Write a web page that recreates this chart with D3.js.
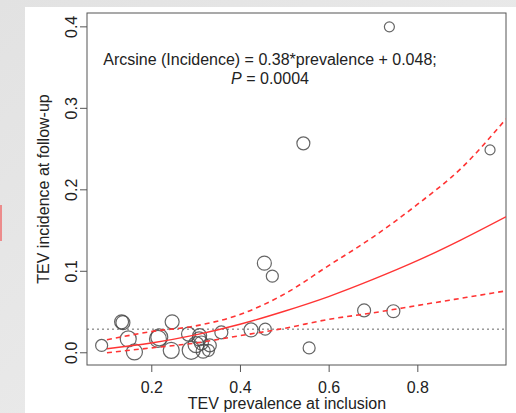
<!DOCTYPE html>
<html>
<head>
<meta charset="utf-8">
<script src="https://cdn.jsdelivr.net/npm/d3@7"></script>
<style>
  body { margin: 0; background: #e8e8e8; }
  svg { display: block; font-family: "Liberation Sans", Arial, sans-serif; }
</style>
</head>
<body>
<div id="chart"></div>
<script>
// Studies: prevalence at inclusion vs incidence at follow-up, bubble = study weight
const prevalence = [0.737, 0.543, 0.964, 0.455, 0.473, 0.680, 0.746, 0.556, 0.425, 0.457,
                    0.358, 0.088, 0.136, 0.133, 0.148, 0.162, 0.247, 0.215, 0.218, 0.245,
                    0.284, 0.290, 0.309, 0.313, 0.317, 0.332, 0.329, 0.301, 0.308];
const incidence = [0.400, 0.257, 0.249, 0.110, 0.094, 0.052, 0.051, 0.006, 0.028, 0.029,
                   0.025, 0.009, 0.037, 0.038, 0.017, 0.001, 0.038, 0.017, 0.019, 0.003,
                   0.023, 0.003, 0.021, 0.012, 0.002, 0.009, 0.003, 0.010, 0.017];
const studyWeight = [25, 42, 25, 49, 36, 42, 42, 36, 49, 36,
                     42, 36, 49, 49, 64, 64, 49, 72, 72, 64,
                     49, 81, 49, 49, 49, 42, 36, 64, 49];

// fitted curve and 95% band
const curvePrev = [0.1, 0.2, 0.3, 0.4, 0.5, 0.6, 0.7, 0.8, 0.9, 1.0];
const fitInc   = [0.005, 0.012, 0.022, 0.035, 0.051, 0.069, 0.090, 0.113, 0.139, 0.167];
const upperInc = [0.016, 0.026, 0.033, 0.047, 0.072, 0.107, 0.142, 0.182, 0.227, 0.287];
const lowerInc = [0.000, 0.006, 0.012, 0.021, 0.030, 0.041, 0.049, 0.058, 0.067, 0.076];

const meanIncidence = 0.029;
const xTicks = [0.2, 0.4, 0.6, 0.8];
const yTicks = [0.0, 0.1, 0.2, 0.3, 0.4];

const W = 516, H = 413;
const box = { left: 87, right: 506, top: 13, bottom: 365 };
const ink = '#222', axisCol = '#555', red = '#ff3434';

const svg = d3.select('#chart').append('svg')
    .attr('width', W)
    .attr('height', H);

// slide background + white panel
const grad = svg.append('defs').append('linearGradient')
    .attr('id', 'bg').attr('x1', 0).attr('y1', 0).attr('x2', 1).attr('y2', 1);
grad.append('stop').attr('offset', 0).attr('stop-color', '#e2e2e2');
grad.append('stop').attr('offset', 1).attr('stop-color', '#efefef');
svg.append('rect').attr('width', W).attr('height', H).attr('fill', 'url(#bg)');
svg.append('rect').attr('x', 0).attr('y', 205).attr('width', 2).attr('height', 36)
    .attr('fill', '#f05050').attr('opacity', 0.6);
svg.append('rect').attr('x', 25).attr('y', 7).attr('width', W - 25).attr('height', H - 7)
    .attr('fill', '#fff');

const x = d3.scaleLinear().domain([0.055, 1.0]).range([box.left, box.right]);
const y = d3.scaleLinear().domain([-0.015, 0.417]).range([box.bottom, box.top]);
const r = d3.scaleSqrt().domain([0, 100]).range([0, 10]);

svg.append('clipPath').attr('id', 'plot').append('rect')
    .attr('x', box.left).attr('y', box.top)
    .attr('width', box.right - box.left).attr('height', box.bottom - box.top);

// axes
const xAxis = svg.append('g')
    .attr('transform', `translate(0,${box.bottom})`)
    .call(d3.axisBottom(x).tickValues(xTicks).tickSize(7).tickPadding(10).tickFormat(d3.format('.1f')));
const yAxis = svg.append('g')
    .attr('transform', `translate(${box.left},0)`)
    .call(d3.axisLeft(y).tickValues(yTicks).tickSize(7).tickFormat(d3.format('.1f')));

[xAxis, yAxis].forEach(g => {
    g.select('.domain').remove();
    g.selectAll('line').attr('stroke', axisCol);
    g.selectAll('text').attr('fill', ink).style('font-size', '16px');
});
xAxis.selectAll('text').attr('dy', '0.71em');
yAxis.selectAll('text')
    .attr('x', 0).attr('dy', 0)
    .attr('text-anchor', 'middle')
    .attr('transform', d => `translate(-10,${y(d)}) rotate(-90)`)
    .attr('y', 0);
yAxis.selectAll('.tick').attr('transform', null);
yAxis.selectAll('.tick line').attr('y1', d => y(d)).attr('y2', d => y(d));

svg.append('rect')
    .attr('x', box.left).attr('y', box.top)
    .attr('width', box.right - box.left).attr('height', box.bottom - box.top)
    .attr('fill', 'none').attr('stroke', axisCol).attr('stroke-width', 1);

// titles
svg.append('text')
    .attr('x', 287).attr('y', 409)
    .attr('text-anchor', 'middle').attr('fill', ink).style('font-size', '16px')
    .text('TEV prevalence at inclusion');
svg.append('text')
    .attr('transform', `translate(49,${(box.top + box.bottom) / 2}) rotate(-90)`)
    .attr('text-anchor', 'middle').attr('fill', ink).style('font-size', '16px')
    .text('TEV incidence at follow-up');

// equation
svg.append('text')
    .attr('x', 270).attr('y', 65)
    .attr('text-anchor', 'middle').attr('fill', ink).style('font-size', '16px')
    .text('Arcsine (Incidence) = 0.38*prevalence + 0.048;');
const pLine = svg.append('text')
    .attr('x', 270).attr('y', 84)
    .attr('text-anchor', 'middle').attr('fill', ink).style('font-size', '16px');
pLine.append('tspan').style('font-style', 'italic').text('P');
pLine.append('tspan').text(' = 0.0004');

const plot = svg.append('g').attr('clip-path', 'url(#plot)');

// mean incidence reference
plot.append('line')
    .attr('x1', box.left).attr('x2', box.right)
    .attr('y1', y(meanIncidence)).attr('y2', y(meanIncidence))
    .attr('stroke', '#666').attr('stroke-width', 1)
    .attr('stroke-dasharray', '2,3');

// studies
const pts = d3.range(prevalence.length);
plot.append('g')
    .selectAll('circle')
    .data(pts)
    .enter()
    .append('circle')
    .attr('cx', i => x(prevalence[i]))
    .attr('cy', i => y(incidence[i]))
    .attr('r', i => r(studyWeight[i]))
    .attr('fill', 'none')
    .attr('stroke', '#4a4a4a')
    .attr('stroke-opacity', 0.85)
    .attr('stroke-width', 1.2);

// fit + confidence band
const line = vals => d3.line()
    .x((d, i) => x(curvePrev[i]))
    .y(d => y(d))
    .curve(d3.curveMonotoneX)(vals);

plot.append('path').attr('d', line(fitInc))
    .attr('fill', 'none').attr('stroke', red).attr('stroke-width', 1.4);
[upperInc, lowerInc].forEach(band => {
    plot.append('path').attr('d', line(band))
        .attr('fill', 'none').attr('stroke', red).attr('stroke-width', 1.6)
        .attr('stroke-dasharray', '5,4');
});
</script>
</body>
</html>
